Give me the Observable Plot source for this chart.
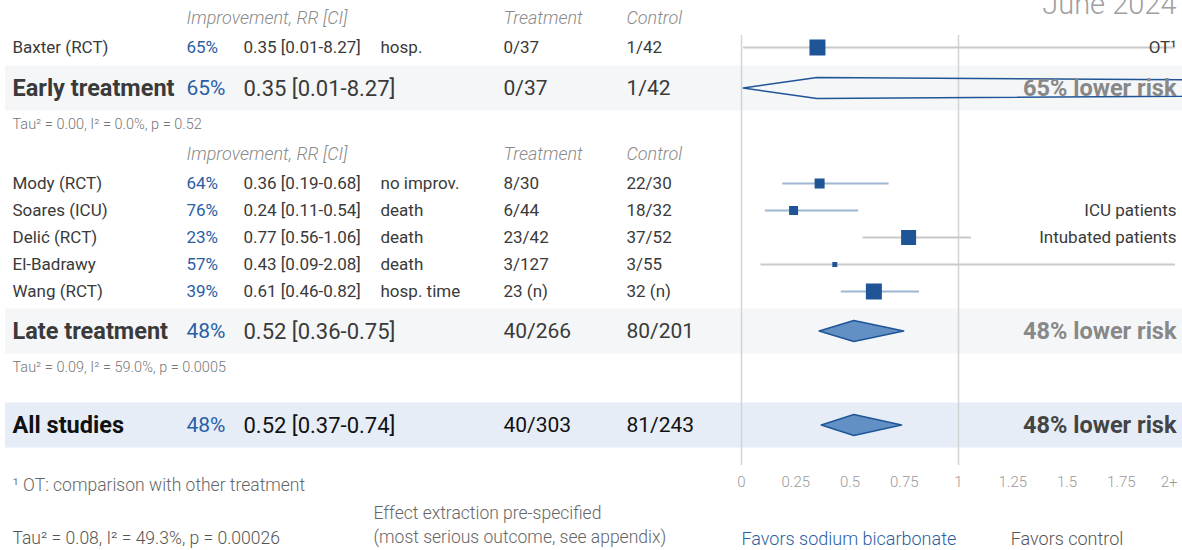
<!DOCTYPE html>
<html><head><meta charset="utf-8">
<script src="https://cdn.jsdelivr.net/npm/d3@7"></script>
<script src="https://cdn.jsdelivr.net/npm/@observablehq/plot@0.6"></script>
<style>
html,body{margin:0;padding:0;background:#fff;overflow:hidden;}
</style></head><body><div id="chart"></div>
<script>
// ---- data ----
const studies   = ["Baxter (RCT)", "Mody (RCT)", "Soares (ICU)", "Delić (RCT)", "El-Badrawy", "Wang (RCT)"];
const groups    = ["Early", "Late", "Late", "Late", "Late", "Late"];
const rr        = [0.35, 0.36, 0.24, 0.77, 0.43, 0.61];
const ciLow     = [0.01, 0.19, 0.11, 0.56, 0.09, 0.46];
const ciHigh    = [8.27, 0.68, 0.54, 1.06, 2.08, 0.82];
const outcomes  = ["hosp.", "no improv.", "death", "death", "death", "hosp. time"];
const treatment = ["0/37", "8/30", "6/44", "23/42", "3/127", "23 (n)"];
const control   = ["1/42", "22/30", "18/32", "37/52", "3/55", "32 (n)"];
const notes     = ["OT¹", "", "ICU patients", "Intubated patients", "", ""];
const weights   = [100, 14.6, 11.8, 32.8, 3.6, 37.3];

const sumNames  = ["Early treatment", "Late treatment", "All studies"];
const sumKeys   = ["Early", "Late", "All"];
const sumRR     = [0.35, 0.52, 0.52];
const sumLow    = [0.01, 0.36, 0.37];
const sumHigh   = [8.27, 0.75, 0.74];
const sumTreat  = ["0/37", "40/266", "40/303"];
const sumCtrl   = ["1/42", "80/201", "81/243"];
const sumStats  = ["Tau² = 0.00, I² = 0.0%, p = 0.52", "Tau² = 0.09, I² = 59.0%, p = 0.0005", "Tau² = 0.08, I² = 49.3%, p = 0.00026"];

const tickValues = [0, 0.25, 0.5, 0.75, 1, 1.25, 1.5, 1.75];
const headers = ["Improvement, RR [CI]", "Treatment", "Control"];

// ---- layout (code, not data) ----
const W = 1182, H = 550;
const ROW = 27;
const L = {
  header: {Early: 18, Late: 154},
  first: {Early: 47, Late: 183},
  sum: {Early: 88, Late: 331, All: 425},
  stats: {Early: 124, Late: 367},
  axis: 482
};
const BAND_HALF = 22.5;
const DIAMOND_HALF = 10.5;
const fmt = v => v.toFixed(2);
const pct = v => Math.round((1 - v) * 100) + "%";

const counters = {Early: 0, Late: 0};
const studyRows = studies.map((s, i) => {
  const g = groups[i];
  const y = L.first[g] + ROW * counters[g]++;
  return {name: s, g, y, rr: rr[i], lo: ciLow[i], hi: ciHigh[i], outcome: outcomes[i],
    treat: treatment[i], ctrl: control[i], note: notes[i], w: weights[i],
    pct: pct(rr[i]), rrText: `${fmt(rr[i])} [${fmt(ciLow[i])}-${fmt(ciHigh[i])}]`,
    sig: ciHigh[i] < 1};
});
const sumRows = sumNames.map((n, i) => ({
  name: n, key: sumKeys[i], y: L.sum[sumKeys[i]], rr: sumRR[i], lo: sumLow[i], hi: sumHigh[i],
  treat: sumTreat[i], ctrl: sumCtrl[i], pct: pct(sumRR[i]),
  rrText: `${fmt(sumRR[i])} [${fmt(sumLow[i])}-${fmt(sumHigh[i])}]`,
  risk: pct(sumRR[i]) + " lower risk", sig: sumHigh[i] < 1, all: sumKeys[i] === "All"
}));
const diamondPts = sumRows.flatMap(d => [
  {g: d.key, sig: d.sig, x: d.lo, y1: d.y, y2: d.y},
  {g: d.key, sig: d.sig, x: d.rr, y1: d.y - DIAMOND_HALF, y2: d.y + DIAMOND_HALF},
  {g: d.key, sig: d.sig, x: d.hi, y1: d.y, y2: d.y}
]);
const headerRows = ["Early", "Late"].flatMap(g => headers.map((h, j) => ({text: h, col: j, y: L.header[g]})));
const statRows = sumRows.filter(d => !d.all).map((d, i) => ({text: sumStats[i], y: L.stats[d.key]}));

const TXT = "#3a3a3a", BLUE = "#2a5ea6", DARK = "#1f5597";
const COLS = {name: 12, pct: 186, rr: 243, outcome: 380, treat: 503, ctrl: 626};
const base = {frameAnchor: "left", textAnchor: "start", fontSize: 17, fill: TXT};
const hdr = {...base, y: "y", text: "text", fontStyle: "italic", fill: "#8a8a8a", fontWeight: 300, fontSize: 18};

const plot = Plot.plot({
  width: W, height: H,
  marginTop: 0, marginBottom: 0, marginLeft: 0, marginRight: 0,
  x: {domain: [0, 2], range: [741, 1175], axis: null},
  y: {domain: [0, H], range: [0, H], axis: null},
  r: {type: "sqrt", domain: [0, 37.3], range: [0, 9.03], clamp: true},
  style: {fontFamily: "Roboto, sans-serif", background: "white", overflow: "hidden"},
  marks: [
    // summary bands
    Plot.rect(sumRows, {y1: d => d.y - BAND_HALF, y2: d => d.y + BAND_HALF, fill: d => d.all ? "#e6edf7" : "#f4f6f8", insetLeft: 5}),
    // reference rules at 0 and 1
    Plot.ruleX([0, 1], {y1: 35, y2: 465, stroke: "#d4d4d4", strokeWidth: 1.5}),
    // CI lines
    Plot.ruleY(studyRows, {y: "y", x1: "lo", x2: d => Math.min(d.hi, 2), stroke: d => d.sig ? "#9fb6d4" : "#c9c9c9", strokeWidth: 2}),
    // point estimates
    Plot.dot(studyRows, {x: "rr", y: "y", r: "w", symbol: "square", fill: DARK}),
    // diamonds
    Plot.areaY(diamondPts.filter(d => d.sig), {x: "x", y1: "y1", y2: "y2", z: "g", fill: "#6290c5", stroke: DARK, strokeWidth: 1.5, curve: "linear"}),
    Plot.areaY(diamondPts.filter(d => !d.sig), {x: "x", y1: "y1", y2: "y2", z: "g", fill: "none", stroke: DARK, strokeWidth: 1.5, curve: "linear", clip: true}),
    // headers
    Plot.text(headerRows.filter(d => d.col === 0), {...hdr, dx: COLS.pct}),
    Plot.text(headerRows.filter(d => d.col === 1), {...hdr, dx: COLS.treat}),
    Plot.text(headerRows.filter(d => d.col === 2), {...hdr, dx: COLS.ctrl}),
    // study rows
    Plot.text(studyRows, {...base, y: "y", text: "name", dx: COLS.name}),
    Plot.text(studyRows, {...base, y: "y", text: "pct", dx: COLS.pct, fill: BLUE}),
    Plot.text(studyRows, {...base, y: "y", text: "rrText", dx: COLS.rr}),
    Plot.text(studyRows, {...base, y: "y", text: "outcome", dx: COLS.outcome}),
    Plot.text(studyRows, {...base, y: "y", text: "treat", dx: COLS.treat}),
    Plot.text(studyRows, {...base, y: "y", text: "ctrl", dx: COLS.ctrl}),
    Plot.text(studyRows, {...base, y: "y", text: "note", frameAnchor: "right", textAnchor: "end", dx: -6}),
    // summary rows
    Plot.text(sumRows, {...base, y: "y", text: "name", dx: COLS.name, fontSize: 23.5, fontWeight: "bold", fill: d => d.all ? "#111" : TXT}),
    Plot.text(sumRows, {...base, y: "y", text: "pct", dx: COLS.pct, fontSize: 21, fill: BLUE}),
    Plot.text(sumRows, {...base, y: "y", text: "rrText", dx: COLS.rr, fontSize: 22, fill: d => d.all ? "#111" : TXT}),
    Plot.text(sumRows, {...base, y: "y", text: "treat", dx: COLS.treat, fontSize: 21, fill: d => d.all ? "#111" : TXT}),
    Plot.text(sumRows, {...base, y: "y", text: "ctrl", dx: COLS.ctrl, fontSize: 21, fill: d => d.all ? "#111" : TXT}),
    Plot.text(sumRows, {...base, y: "y", text: "risk", frameAnchor: "right", textAnchor: "end", dx: -6, fontSize: 23.5, fontWeight: "bold", fill: d => d.all ? "#444" : "#888"}),
    // heterogeneity stats
    Plot.text(statRows, {...base, y: "y", text: "text", dx: COLS.name, fontSize: 14.5, fill: "#777", fontWeight: 300}),
    // x axis labels
    Plot.text(tickValues, {x: d => d, y: () => L.axis, text: d => String(d), fontSize: 15, fill: "#9a9a9a", fontWeight: 300}),
    Plot.text([2], {x: d => d, y: () => L.axis, text: () => "2+", textAnchor: "end", dx: 2, fontSize: 15, fill: "#9a9a9a", fontWeight: 300}),
    // date stamp
    Plot.text(["June 2024"], {frameAnchor: "top-right", textAnchor: "end", dx: -6, dy: 4, text: d => d, fontSize: 29, fontWeight: 300, fill: "#a0a0a0", lineAnchor: "middle"}),
    // footer
    Plot.text(["¹ OT: comparison with other treatment"], {...base, y: () => 485, text: d => d, dx: COLS.name, fill: "#666", fontWeight: 300, fontSize: 17.5}),
    Plot.text([sumStats[2]], {...base, y: () => 538, text: d => d, dx: COLS.name, fill: "#555", fontWeight: 300, fontSize: 17.5}),
    Plot.text(["Effect extraction pre-specified"], {...base, y: () => 513, text: d => d, dx: 373, fill: "#666", fontWeight: 300, fontSize: 17.5}),
    Plot.text(["(most serious outcome, see appendix)"], {...base, y: () => 537, text: d => d, dx: 373, fill: "#666", fontWeight: 300, fontSize: 17.5}),
    Plot.text(["Favors sodium bicarbonate"], {x: () => 0, y: () => 539, text: d => d, textAnchor: "start", fontSize: 18, fill: BLUE, fontWeight: 300}),
    Plot.text(["Favors control"], {x: () => 1.5, y: () => 539, text: d => d, textAnchor: "middle", fontSize: 18, fill: "#555", fontWeight: 300})
  ]
});
document.getElementById("chart").appendChild(plot);
</script>
</body></html>
